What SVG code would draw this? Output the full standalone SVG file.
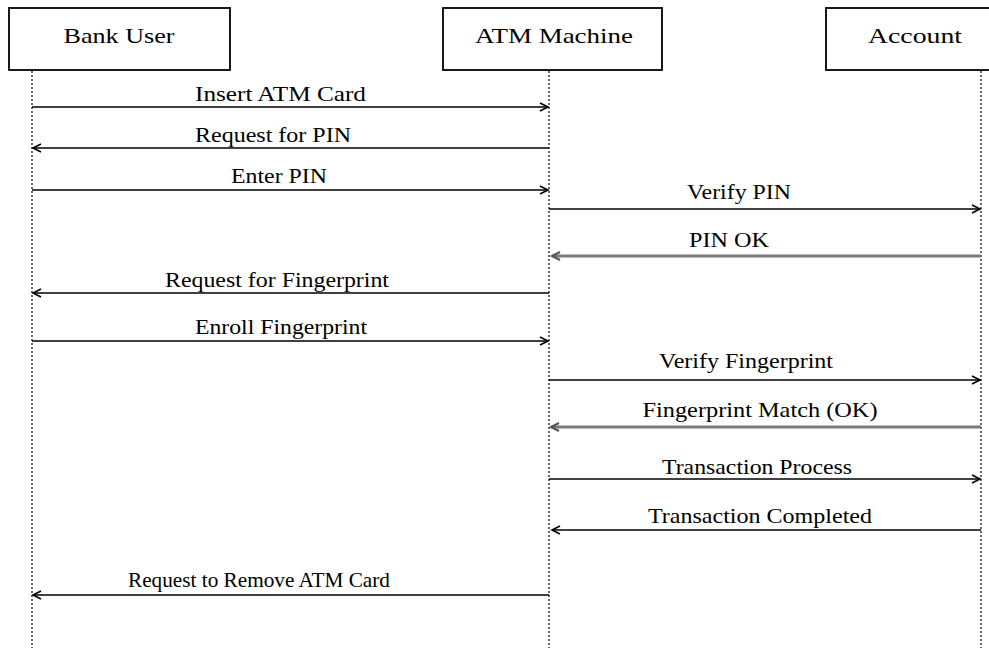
<svg xmlns="http://www.w3.org/2000/svg" width="989" height="648" viewBox="0 0 989 648">
  <style>
    .box { fill: #ffffff; stroke: #000000; stroke-width: 1.8; }
    .life { stroke: #444444; stroke-width: 1.6; stroke-dasharray: 2 2; fill: none; }
    .msg { stroke: #000000; stroke-width: 1.6; fill: none; }
    .msg.ret { stroke: #7a7a7a; stroke-width: 3; }
    .head { stroke: #000000; stroke-width: 1.6; fill: none; }
    .head.ret { stroke: #555555; stroke-width: 2; }
    text { font-family: "Liberation Serif", "Times New Roman", serif; font-size: 21px; fill: #000000; text-anchor: middle; }
  </style>

  <!-- participants -->
  <g id="bank-user">
    <rect class="box" x="9" y="8" width="221" height="62"/>
    <text x="119" y="43" textLength="111" lengthAdjust="spacingAndGlyphs">Bank User</text>
    <line class="life" x1="32" y1="71" x2="32" y2="648"/>
  </g>
  <g id="atm-machine">
    <rect class="box" x="443" y="8" width="219" height="62"/>
    <text x="554" y="43" textLength="158" lengthAdjust="spacingAndGlyphs">ATM Machine</text>
    <line class="life" x1="549" y1="71" x2="549" y2="648"/>
  </g>
  <g id="account">
    <rect class="box" x="826" y="8" width="190" height="62"/>
    <text x="915" y="43" textLength="94" lengthAdjust="spacingAndGlyphs">Account</text>
    <line class="life" x1="981" y1="71" x2="981" y2="648"/>
  </g>

  <!-- messages -->
  <g id="connectors">
    <!-- Bank User -> ATM -->
    <line class="msg" x1="32" y1="107" x2="548" y2="107"/>
    <path class="head" d="M540,103 L548,107 L540,111"/>
    <text x="280.5" y="101" textLength="171" lengthAdjust="spacingAndGlyphs">Insert ATM Card</text>

    <line class="msg" x1="33" y1="148" x2="549" y2="148"/>
    <path class="head" d="M41,144 L33,148 L41,152"/>
    <text x="273" y="142" textLength="156" lengthAdjust="spacingAndGlyphs">Request for PIN</text>

    <line class="msg" x1="32" y1="190" x2="548" y2="190"/>
    <path class="head" d="M540,186 L548,190 L540,194"/>
    <text x="279" y="183" textLength="96" lengthAdjust="spacingAndGlyphs">Enter PIN</text>

    <!-- ATM -> Account -->
    <line class="msg" x1="549" y1="209" x2="980" y2="209"/>
    <path class="head" d="M972,205 L980,209 L972,213"/>
    <text x="739" y="199" textLength="104" lengthAdjust="spacingAndGlyphs">Verify PIN</text>

    <line class="msg ret" x1="552" y1="256" x2="981" y2="256"/>
    <path class="head ret" d="M560,252 L552,256 L560,260"/>
    <text x="729" y="247" textLength="80" lengthAdjust="spacingAndGlyphs">PIN OK</text>

    <line class="msg" x1="33" y1="293" x2="549" y2="293"/>
    <path class="head" d="M41,289 L33,293 L41,297"/>
    <text x="277" y="287" textLength="224" lengthAdjust="spacingAndGlyphs">Request for Fingerprint</text>

    <line class="msg" x1="32" y1="341" x2="548" y2="341"/>
    <path class="head" d="M540,337 L548,341 L540,345"/>
    <text x="281" y="334" textLength="172" lengthAdjust="spacingAndGlyphs">Enroll Fingerprint</text>

    <line class="msg" x1="549" y1="380" x2="980" y2="380"/>
    <path class="head" d="M972,376 L980,380 L972,384"/>
    <text x="746" y="368" textLength="174" lengthAdjust="spacingAndGlyphs">Verify Fingerprint</text>

    <line class="msg ret" x1="551" y1="427" x2="981" y2="427"/>
    <path class="head ret" d="M559,423 L551,427 L559,431"/>
    <text x="760" y="417" textLength="235" lengthAdjust="spacingAndGlyphs">Fingerprint Match (OK)</text>

    <line class="msg" x1="549" y1="479" x2="980" y2="479"/>
    <path class="head" d="M972,475 L980,479 L972,483"/>
    <text x="757" y="474" textLength="190" lengthAdjust="spacingAndGlyphs">Transaction Process</text>

    <line class="msg" x1="552" y1="530" x2="981" y2="530"/>
    <path class="head" d="M560,526 L552,530 L560,534"/>
    <text x="760" y="523" textLength="224" lengthAdjust="spacingAndGlyphs">Transaction Completed</text>

    <line class="msg" x1="33" y1="595" x2="549" y2="595"/>
    <path class="head" d="M41,591 L33,595 L41,599"/>
    <text x="259" y="587" textLength="262" lengthAdjust="spacingAndGlyphs">Request to Remove ATM Card</text>
  </g>
</svg>
